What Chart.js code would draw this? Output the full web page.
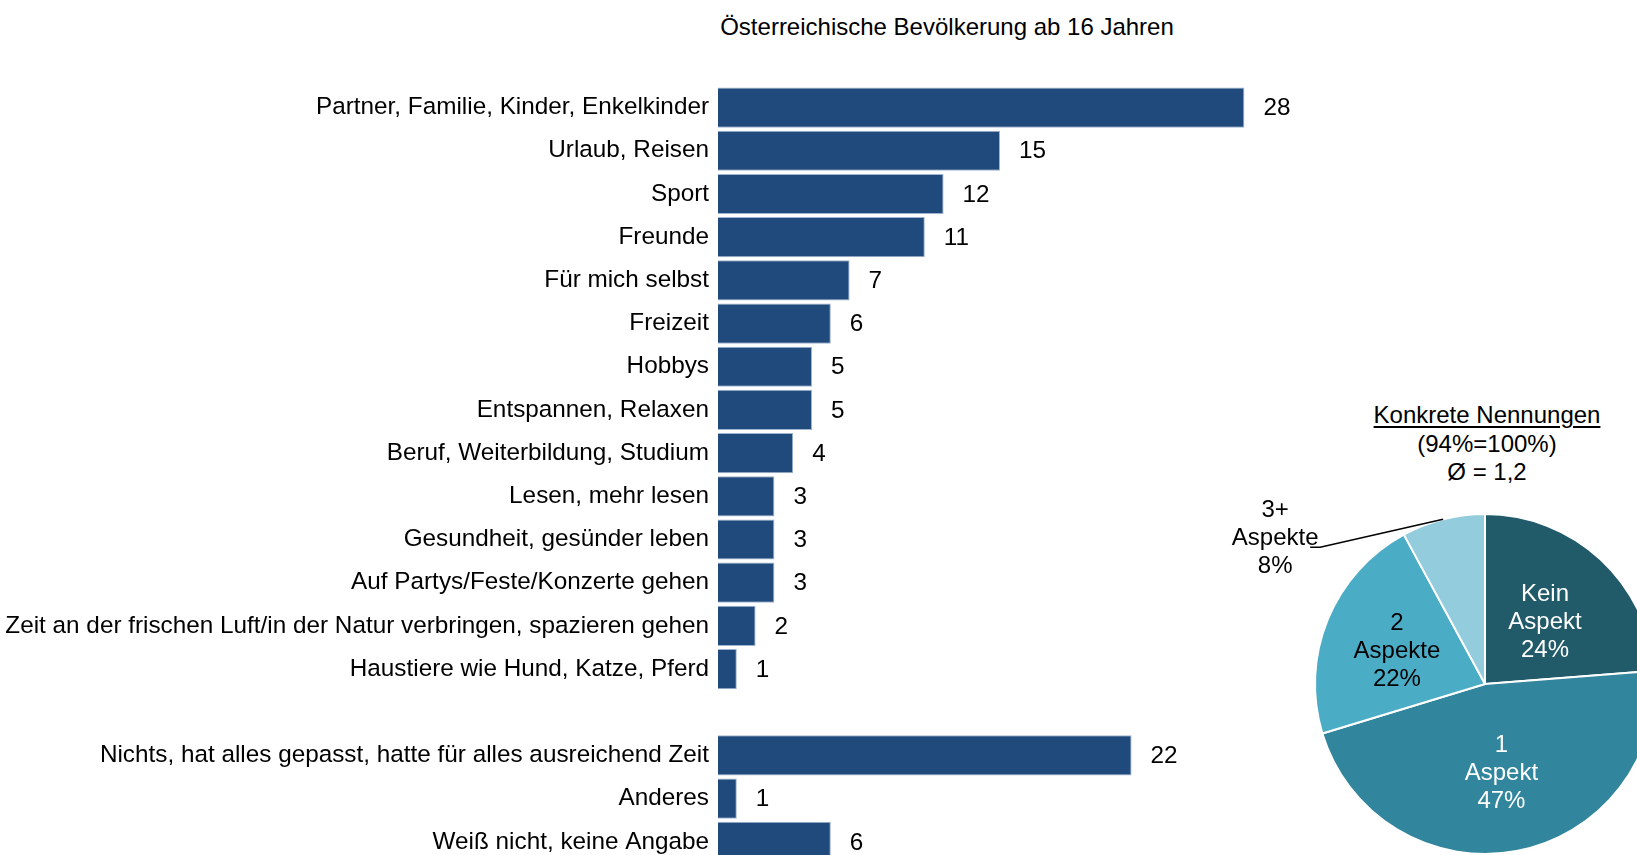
<!DOCTYPE html>
<html>
<head>
<meta charset="utf-8">
<script src="https://cdn.jsdelivr.net/npm/chart.js@4/dist/chart.umd.min.js"></script>
<style>
  html, body { margin: 0; padding: 0; background: #fff; overflow: hidden; width: 1637px; height: 855px; }
  body { position: relative; font-family: "Liberation Sans", Arial, sans-serif; color: #000; }
  #barChart { position: absolute; left: 0; top: 0; }
  #pieChart { position: absolute; left: 1150px; top: 480px; }
  .title { position: absolute; left: 947px; top: 27px; transform: translate(-50%, -50%); font-size: 24px; white-space: nowrap; }
  .pie-head { position: absolute; left: 1487px; top: 401px; transform: translateX(-50%); font-size: 24px; line-height: 28.5px; text-align: center; white-space: nowrap; }
  .pie-head u { text-underline-offset: 3px; }
</style>
</head>
<body>
<div class="title">Österreichische Bevölkerung ab 16 Jahren</div>
<div class="pie-head"><u>Konkrete Nennungen</u><br>(94%=100%)<br>Ø = 1,2</div>
<canvas id="barChart" width="1470" height="887"></canvas>
<canvas id="pieChart" width="506" height="375"></canvas>
<script>
// bar data
const categories = [
  'Partner, Familie, Kinder, Enkelkinder',
  'Urlaub, Reisen',
  'Sport',
  'Freunde',
  'Für mich selbst',
  'Freizeit',
  'Hobbys',
  'Entspannen, Relaxen',
  'Beruf, Weiterbildung, Studium',
  'Lesen, mehr lesen',
  'Gesundheit, gesünder leben',
  'Auf Partys/Feste/Konzerte gehen',
  'Zeit an der frischen Luft/in der Natur verbringen, spazieren gehen',
  'Haustiere wie Hund, Katze, Pferd',
  '',
  'Nichts, hat alles gepasst, hatte für alles ausreichend Zeit',
  'Anderes',
  'Weiß nicht, keine Angabe'
];
const values = [28, 15, 12, 11, 7, 6, 5, 5, 4, 3, 3, 3, 2, 1, null, 22, 1, 6];

// pie data
const pieLabels = [['Kein', 'Aspekt'], ['1', 'Aspekt'], ['2', 'Aspekte'], ['3+', 'Aspekte']];
const pieValues = [24, 47, 22, 8];
const pieColors = ['#215a69', '#31859c', '#4bacc6', '#93cddd'];
const pieTextColors = ['#fff', '#fff', '#000', '#000'];

const FONT = '"Liberation Sans", Arial, sans-serif';
const FS = 24.3;
const PIE_FS = 24;

const valueLabels = {
  id: 'valueLabels',
  afterDatasetsDraw(chart) {
    const ctx = chart.ctx;
    const meta = chart.getDatasetMeta(0);
    ctx.save();
    ctx.font = `${FS}px ${FONT}`;
    ctx.fillStyle = '#000';
    ctx.textAlign = 'left';
    ctx.textBaseline = 'middle';
    meta.data.forEach((bar, i) => {
      const v = values[i];
      if (v == null) return;
      ctx.fillText(String(v), bar.x + 19, bar.y + 1);
    });
    ctx.restore();
  }
};

new Chart(document.getElementById('barChart').getContext('2d'), {
  type: 'bar',
  data: {
    labels: categories,
    datasets: [{
      data: values,
      backgroundColor: '#214a7c',
      borderColor: '#9fb4d0',
      borderWidth: 1,
      barPercentage: 0.93,
      categoryPercentage: 1
    }]
  },
  options: {
    indexAxis: 'y',
    responsive: false,
    animation: false,
    devicePixelRatio: 1,
    layout: { padding: { top: 86, bottom: 8, left: 0, right: 0 } },
    plugins: { legend: { display: false }, tooltip: { enabled: false } },
    scales: {
      x: { display: false, min: 0, max: 40 },
      y: {
        grid: { display: false, drawTicks: false },
        border: { display: false },
        ticks: { color: '#000', font: { family: FONT, size: FS }, padding: 9, autoSkip: false },
        afterFit: s => { s.width = 718; }
      }
    }
  },
  plugins: [valueLabels]
});

const pieText = {
  id: 'pieText',
  afterDatasetsDraw(chart) {
    const ctx = chart.ctx;
    const meta = chart.getDatasetMeta(0);
    ctx.save();
    ctx.font = `${PIE_FS}px ${FONT}`;
    ctx.textAlign = 'center';
    ctx.textBaseline = 'middle';
    const lh = 28;
    meta.data.forEach((arc, i) => {
      const mid = (arc.startAngle + arc.endAngle) / 2;
      const lines = pieLabels[i].concat([pieValues[i] + '%']);
      if (i === 3) {
        // outside label with leader line
        const px = arc.x + arc.outerRadius * Math.cos(mid);
        const py = arc.y + arc.outerRadius * Math.sin(mid);
        ctx.strokeStyle = '#000';
        ctx.lineWidth = 1.5;
        ctx.beginPath();
        ctx.moveTo(px, py);
        ctx.lineTo(px - 123, py + 28);
        ctx.lineTo(px - 133, py + 28);
        ctx.stroke();
        ctx.fillStyle = '#000';
        lines.forEach((t, k) => ctx.fillText(t, px - 168, py - 9 + k * lh));
        return;
      }
      const rr = arc.outerRadius * (i === 2 ? 0.56 : 0.52);
      const cx = arc.x + rr * Math.cos(mid);
      const cy = arc.y + rr * Math.sin(mid) + 3;
      ctx.fillStyle = pieTextColors[i];
      lines.forEach((t, k) => ctx.fillText(t, cx, cy + (k - 1) * lh));
    });
    ctx.restore();
  }
};

// pie sits partly off-screen on the right, like the original
new Chart(document.getElementById('pieChart').getContext('2d'), {
  type: 'pie',
  data: {
    labels: pieLabels.map(l => l.join(' ')),
    datasets: [{
      data: pieValues,
      backgroundColor: pieColors,
      borderColor: '#fff',
      borderWidth: 2
    }]
  },
  options: {
    responsive: false,
    animation: false,
    devicePixelRatio: 1,
    layout: { padding: { left: 164, top: 33, right: 0, bottom: 0 } },
    plugins: { legend: { display: false }, tooltip: { enabled: false } }
  },
  plugins: [pieText]
});
</script>
</body>
</html>
